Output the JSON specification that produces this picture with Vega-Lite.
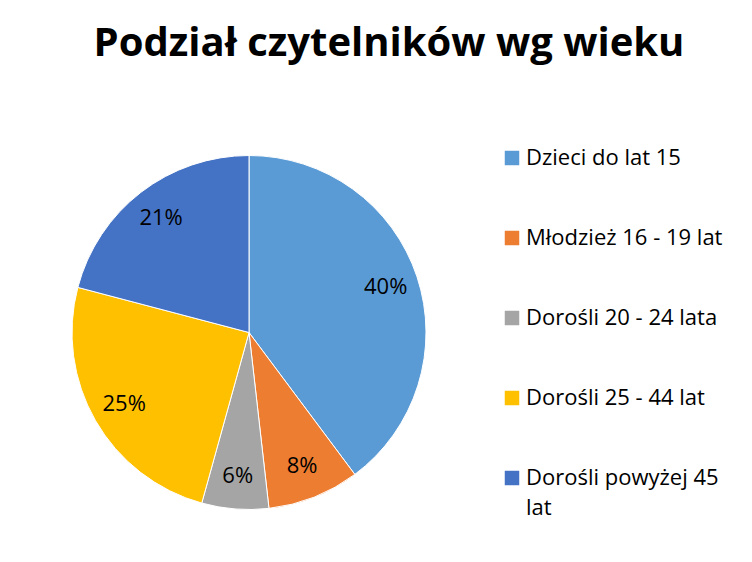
{
  "$schema": "https://vega.github.io/schema/vega-lite/v6.json",
  "autosize": {"type": "none"},
  "padding": {"left": 0, "top": 155, "right": 254, "bottom": 52},
  "width": 498,
  "height": 355,
  "background": "white",
  "config": {
    "style": {"guide-label": {"lineHeight": 30}}
  },
  "title": {
    "text": "Podział czytelników wg wieku",
    "font": "Open Sans",
    "fontSize": 40,
    "fontWeight": "bold",
    "color": "#000000",
    "anchor": "middle",
    "baseline": "alphabetic",
    "offset": 51,
    "dx": 140
  },
  "data": {
    "values": [
      {"grupa": "Dzieci do lat 15", "share": 0.398, "idx": 1},
      {"grupa": "Młodzież 16 - 19 lat", "share": 0.084, "idx": 2},
      {"grupa": "Dorośli 20 - 24 lata", "share": 0.061, "idx": 3},
      {"grupa": "Dorośli 25 - 44 lat", "share": 0.248, "idx": 4},
      {"grupa": "Dorośli powyżej 45 lat", "share": 0.209, "idx": 5}
    ]
  },
  "encoding": {
    "theta": {"field": "share", "type": "quantitative", "stack": true},
    "order": {"field": "idx", "type": "quantitative"}
  },
  "layer": [
    {
      "mark": {"type": "arc", "outerRadius": 177, "stroke": "white", "strokeWidth": 1},
      "encoding": {
        "color": {
          "field": "grupa",
          "type": "nominal",
          "sort": null,
          "scale": {
            "domain": ["Dzieci do lat 15", "Młodzież 16 - 19 lat", "Dorośli 20 - 24 lata", "Dorośli 25 - 44 lat", "Dorośli powyżej 45 lat"],
            "range": ["#5B9BD5", "#ED7D31", "#A5A5A5", "#FFC000", "#4472C4"]
          },
          "legend": {
            "title": null,
            "orient": "none",
            "legendX": 501,
            "legendY": -8,
            "padding": 0,
            "symbolType": "square",
            "symbolSize": 210,
            "symbolStrokeWidth": 0,
            "labelFont": "Open Sans",
            "labelFontSize": 22,
            "labelColor": "#000000",
            "labelOffset": 3,
            "labelLimit": 300,
            "rowPadding": 58,
            "labelExpr": "datum.label == 'Dorośli powyżej 45 lat' ? ['Dorośli powyżej 45', 'lat'] : datum.label"
          }
        }
      }
    },
    {
      "mark": {"type": "text", "radius": 144, "font": "Open Sans", "fontSize": 22, "color": "#000000"},
      "encoding": {
        "text": {"field": "share", "type": "quantitative", "format": ".0%"}
      }
    }
  ]
}
